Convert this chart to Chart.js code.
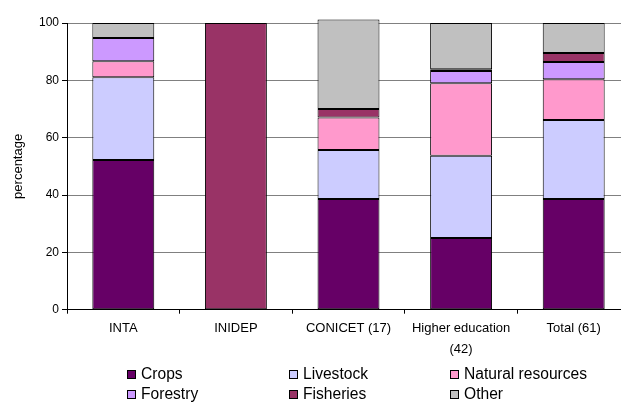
<!DOCTYPE html>
<html>
<head>
<meta charset="utf-8">
<script src="https://cdn.jsdelivr.net/npm/chart.js@4.4.1/dist/chart.umd.min.js"></script>
<style>
html, body { margin: 0; padding: 0; overflow: hidden; background: #fff; }
#wrap { width: 630px; height: 403px; }
</style>
</head>
<body>
<div id="wrap"><canvas id="chart" width="630" height="403"></canvas></div>
<script>
var categories = ['INTA', 'INIDEP', 'CONICET (17)', ['Higher education', '(42)'], 'Total (61)'];
var yTicks = [0, 20, 40, 60, 80, 100];

var crops     = [52.2, null, 38.6, 25.0, 38.6];
var livestock = [28.9, null, 17.1, 28.7, 27.6];
var natural   = [5.6,  null, 11.3, 25.3, 14.2];
var forestry  = [8.1,  null, null, 4.3,  6.0];
var fisheries = [null, 100,  3.0,  0.6,  3.1];
var other     = [5.2,  null, 31.2, 16.1, 10.5];

var seriesNames = ['Crops', 'Livestock', 'Natural resources', 'Forestry', 'Fisheries', 'Other'];
var seriesColors = ['#660066', '#ccccff', '#ff99cc', '#cc99ff', '#993366', '#c0c0c0'];
var seriesData = [crops, livestock, natural, forestry, fisheries, other];

var FONT = "'Liberation Sans', Arial, sans-serif";

function makeDataset(i) {
    return {
        label: seriesNames[i],
        data: seriesData[i],
        backgroundColor: seriesColors[i],
        borderColor: '#000000',
        borderWidth: 1,
        borderSkipped: false,
        barPercentage: 0.55,
        categoryPercentage: 1,
        clip: false
    };
}

// legend laid out in a 3 x 2 grid under the axis
var gridLegend = {
    id: 'gridLegend',
    afterDraw: function(chart) {
        var ctx = chart.ctx;
        var cols = [127, 289, 450];
        var rows = [378.5, 398.5];
        ctx.save();
        ctx.font = '15.6px ' + FONT;
        ctx.textBaseline = 'alphabetic';
        ctx.textAlign = 'left';
        chart.data.datasets.forEach(function(ds, i) {
            var x = cols[i % 3];
            var y = rows[Math.floor(i / 3)];
            ctx.fillStyle = ds.backgroundColor;
            ctx.fillRect(x, y - 8.5, 8, 8);
            ctx.strokeStyle = '#000';
            ctx.lineWidth = 1;
            ctx.strokeRect(x + 0.5, y - 8, 8, 8);
            ctx.fillStyle = '#000';
            ctx.fillText(ds.label, x + 14, y);
        });
        ctx.restore();
    }
};

new Chart(document.getElementById('chart'), {
    type: 'bar',
    data: {
        labels: categories,
        datasets: seriesNames.map(function(n, i) { return makeDataset(i); })
    },
    options: {
        responsive: false,
        animation: false,
        layout: { padding: { top: 23, right: 0, bottom: 39, left: 0 } },
        plugins: {
            legend: { display: false },
            tooltip: { enabled: false }
        },
        scales: {
            x: {
                stacked: true,
                border: { color: '#000', width: 1 },
                grid: { offset: true, drawOnChartArea: false, color: '#000', tickLength: 4 },
                ticks: {
                    color: '#000',
                    padding: 5,
                    maxRotation: 0,
                    autoSkip: false,
                    font: { family: FONT, size: 13, lineHeight: 1.55 }
                }
            },
            y: {
                stacked: true,
                min: 0,
                max: 100,
                afterFit: function(axis) { axis.width = 67; },
                afterBuildTicks: function(axis) {
                    axis.ticks = yTicks.map(function(v) { return { value: v }; });
                },
                border: { color: '#000', width: 1 },
                grid: { color: '#808080', tickColor: '#000', tickLength: 5 },
                ticks: {
                    color: '#000',
                    padding: 3,
                    font: { family: FONT, size: 12 }
                },
                title: {
                    display: true,
                    text: 'percentage',
                    color: '#000',
                    padding: { top: 11, bottom: 0 },
                    font: { family: FONT, size: 13 }
                }
            }
        }
    },
    plugins: [gridLegend]
});
</script>
</body>
</html>
